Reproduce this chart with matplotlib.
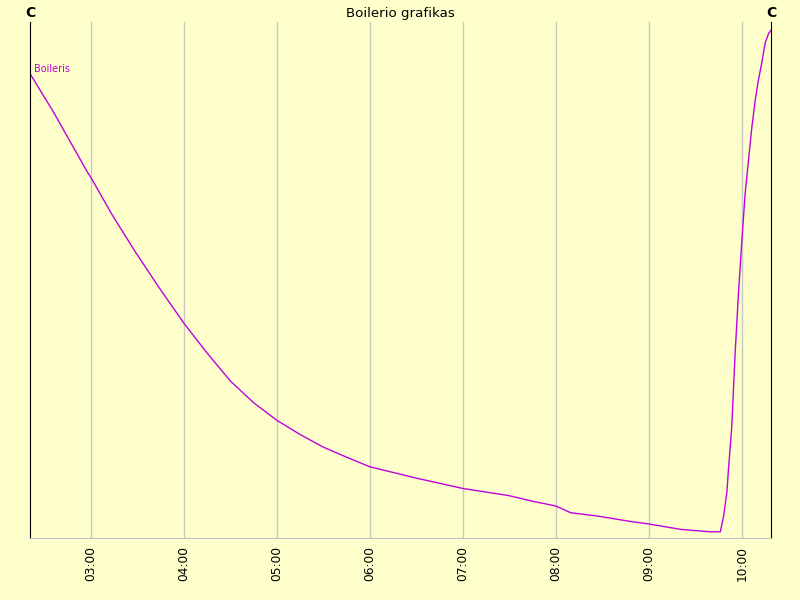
import matplotlib
matplotlib.use("Agg")
import matplotlib.pyplot as plt

# time in hours of the day, boiler temperature (arbitrary C scale)
hours = [2.343, 2.594, 2.958, 3.0, 3.228, 3.478, 3.729, 4.0, 4.25, 4.5, 4.75,
         5.0, 5.254, 5.5, 5.757, 6.0, 6.5, 7.0, 7.5, 7.73,
         8.0, 8.16, 8.447, 8.805, 9.0, 9.34, 9.66, 9.77, 9.805, 9.84, 9.857, 9.893,
         9.929, 9.965, 10.002, 10.037, 10.073, 10.109, 10.145, 10.18, 10.217,
         10.253, 10.29, 10.315]
temps = [65.0, 61.3, 55.5, 54.9, 51.3, 47.7, 44.3, 40.8, 37.9, 35.2, 33.1,
         31.4, 30.0, 28.8, 27.8, 26.9, 25.8, 24.8, 24.1, 23.6,
         23.1, 22.45, 22.13, 21.6, 21.36, 20.84, 20.6, 20.6, 22.1, 24.4, 26.6, 30.8,
         37.9, 43.7, 48.9, 53.4, 56.6, 59.8, 62.4, 64.4, 66.1,
         68.0, 68.9, 69.2]
tick_hours = [3, 4, 5, 6, 7, 8, 9, 10]
tick_labels = ["03:00", "04:00", "05:00", "06:00", "07:00", "08:00", "09:00", "10:00"]

bg = "#FFFFCC"
line_col = "#C000E0"

fig = plt.figure(figsize=(8, 6), dpi=100, facecolor=bg)
ax = fig.add_axes([30/800, 62/600, 741/800, 516/600], facecolor=bg)

ax.plot(hours, temps, color=line_col, lw=1.0)

ax.set_xlim(2.343, 10.315)
ax.set_ylim(20, 70)

ax.set_xticks(tick_hours)
ax.set_xticklabels(tick_labels, rotation=90, fontsize=8.8)
ax.tick_params(axis="x", length=0, pad=6)
ax.set_yticks([])
ax.grid(axis="x", color="#C8C8C8", lw=1)
ax.set_axisbelow(True)

ax.spines["top"].set_visible(False)
ax.spines["bottom"].set_color("#C0C0C0")
ax.spines["left"].set_color("black")
ax.spines["right"].set_color("black")

ax.text(0.5, 1.004, "Boilerio grafikas", transform=ax.transAxes, ha="center",
        va="bottom", fontsize=9.6)
ax.text(0.0, 1.004, "C", transform=ax.transAxes, ha="center", va="bottom",
        fontsize=10, fontweight="bold")
ax.text(1.0, 1.004, "C", transform=ax.transAxes, ha="center", va="bottom",
        fontsize=10, fontweight="bold")
ax.text(0.006, 0.90, "Boileris", transform=ax.transAxes, ha="left", va="bottom",
        fontsize=7, color=line_col)

plt.savefig("out.png", dpi=100, facecolor=bg)
